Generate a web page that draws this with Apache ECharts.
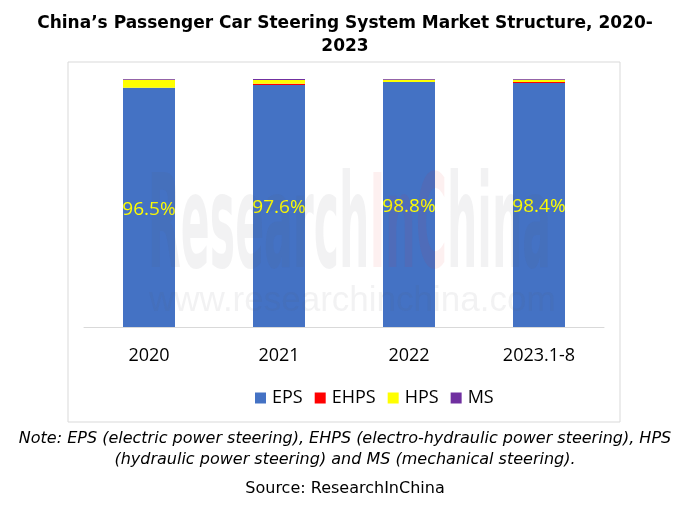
<!DOCTYPE html>
<html>
<head>
<meta charset="utf-8">
<script src="https://cdn.jsdelivr.net/npm/echarts@6/dist/echarts.min.js"></script>
<style>html,body{margin:0;padding:0;background:#fff}#c{width:690px;height:509px}</style>
</head>
<body>
<div id="c"></div>
<script>
var categories = ['2020', '2021', '2022', '2023.1-8'];
var eps  = [96.5, 97.6, 98.8, 98.4];
var ehps = [0.0, 0.5, 0.0, 0.4];
var hps  = [3.2, 1.5, 0.9, 0.9];
var ms   = [0.3, 0.4, 0.3, 0.3];

var chart = echarts.init(document.getElementById('c'));
var font = '"Open Sans", "Noto Sans", sans-serif';

var wmFont = 'bold 130px "Liberation Sans Narrow", "DejaVu Sans Condensed", sans-serif';
var ctx = document.createElement('canvas').getContext('2d');
ctx.font = wmFont;
var wmW = ctx.measureText('ResearchInChina').width;
var wmScale = 403 / wmW;

function bar(name, data, color, label) {
  return {
    name: name, type: 'bar', stack: 'total', data: data, barWidth: 52,
    itemStyle: { color: color },
    label: label ? { show: true, position: 'inside', formatter: '{c}%', color: '#ffff00', fontSize: 19, fontFamily: font, offset: [0, 2] } : { show: false },
    z: 3
  };
}
chart.setOption({
  animation: false,
  title: {
    text: 'China\u2019s Passenger Car Steering System Market Structure, 2020-\n2023',
    left: 'center', top: 7,
    textStyle: { fontFamily: '"DejaVu Sans", Verdana, sans-serif', fontWeight: 'bold', fontSize: 17, lineHeight: 23, color: '#000', align: 'center' }
  },
  graphic: [
    { type: 'rect', shape: { x: 68, y: 62, width: 552, height: 360 }, style: { fill: 'none', stroke: '#d9d9d9', lineWidth: 1 }, z: 0 },
    { type: 'text', x: 148, y: 168, scaleX: wmScale, originX: 0, z: 10, silent: true, style: {
        text: '{a|Research}{b|InC}{a|hina}', font: wmFont,
        rich: {
          a: { font: wmFont, fill: 'rgba(90,90,100,0.08)' },
          b: { font: wmFont, fill: 'rgba(230,40,40,0.07)' }
        }
      } },
    { type: 'text', left: 149, top: 284, z: 10, silent: true, style: { text: 'www.researchinchina.com', font: '35px "Liberation Sans", Arial, sans-serif', fill: 'rgba(90,90,100,0.08)' } },
    { type: 'text', x: 345, y: 431, style: { text: 'Note: EPS (electric power steering), EHPS (electro-hydraulic power steering), HPS', font: 'italic 16px "DejaVu Sans", Verdana, sans-serif', fill: '#000', align: 'center' } },
    { type: 'text', x: 345, y: 452, style: { text: '(hydraulic power steering) and MS (mechanical steering).', font: 'italic 16px "DejaVu Sans", Verdana, sans-serif', fill: '#000', align: 'center' } },
    { type: 'text', x: 345, y: 481, style: { text: 'Source: ResearchInChina', font: '16px "DejaVu Sans", Verdana, sans-serif', fill: '#000', align: 'center' } }
  ],
  legend: {
    data: ['EPS', 'EHPS', 'HPS', 'MS'],
    top: 384, left: 250,
    icon: 'rect', itemWidth: 11, itemHeight: 11, itemGap: 12,
    textStyle: { fontSize: 18, fontFamily: font, color: '#000', padding: [0, 0, 0, 1] }
  },
  grid: { left: 84, right: 86, top: 79, bottom: 182 },
  xAxis: {
    type: 'category', data: categories,
    axisLine: { lineStyle: { color: '#d9d9d9' } },
    axisTick: { show: false },
    axisLabel: { fontSize: 18, color: '#000', fontFamily: font, margin: 20 }
  },
  yAxis: { type: 'value', min: 0, max: 100, show: false, splitLine: { show: false } },
  series: [
    bar('EPS', eps, '#4472c4', true),
    bar('EHPS', ehps, '#ff0000', false),
    bar('HPS', hps, '#ffff00', false),
    bar('MS', ms, '#7030a0', false)
  ]
});
</script>
</body>
</html>
